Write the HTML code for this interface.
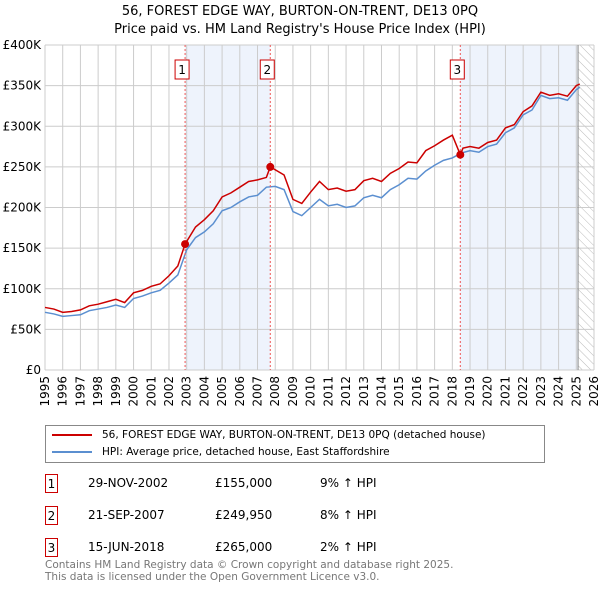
<!DOCTYPE html>
<html><head><meta charset="utf-8"><style>
body{margin:0;width:600px;height:590px;background:#fff;font-family:"DejaVu Sans","Liberation Sans",sans-serif;overflow:hidden;position:relative}
.t{position:absolute;font-size:12px;color:#000;white-space:nowrap}
.box{position:absolute;border:1.5px solid #c00;width:13px;height:19px;font-size:12px;text-align:center;line-height:19px;box-sizing:border-box}
</style></head><body>
<div class="t" style="left:0;width:600px;text-align:center;top:4px;font-size:13px">56, FOREST EDGE WAY, BURTON-ON-TRENT, DE13 0PQ</div>
<div class="t" style="left:0;width:600px;text-align:center;top:22px;font-size:13px">Price paid vs. HM Land Registry's House Price Index (HPI)</div>
<svg id="chart" width="600" height="420" style="position:absolute;left:0;top:0" font-family="DejaVu Sans, Liberation Sans, sans-serif" font-size="12"></svg>
<div style="position:absolute;left:45px;top:425px;width:500px;height:38px;border:1px solid #888;box-sizing:border-box">
<div style="position:absolute;left:6px;top:3px;font-size:10.5px;white-space:nowrap"><span style="display:inline-block;width:40px;height:2px;background:#c00;vertical-align:middle;margin-right:10px"></span>56, FOREST EDGE WAY, BURTON-ON-TRENT, DE13 0PQ (detached house)</div>
<div style="position:absolute;left:6px;top:20px;font-size:10.5px;white-space:nowrap"><span style="display:inline-block;width:40px;height:2px;background:#5b8fd0;vertical-align:middle;margin-right:10px"></span>HPI: Average price, detached house, East Staffordshire</div>
</div>
<div id="tbl"></div>
<div class="t" style="left:45px;top:559px;font-size:10.5px;color:#777">Contains HM Land Registry data © Crown copyright and database right 2025.</div>
<div class="t" style="left:45px;top:571px;font-size:10.5px;color:#777">This data is licensed under the Open Government Licence v3.0.</div>
<script>
const years=[1995,1995.5,1996,1996.5,1997,1997.5,1998,1998.5,1999,1999.5,2000,2000.5,2001,2001.5,2002,2002.5,2003,2003.5,2004,2004.5,2005,2005.5,2006,2006.5,2007,2007.5,2008,2008.5,2009,2009.5,2010,2010.5,2011,2011.5,2012,2012.5,2013,2013.5,2014,2014.5,2015,2015.5,2016,2016.5,2017,2017.5,2018,2018.5,2019,2019.5,2020,2020.5,2021,2021.5,2022,2022.5,2023,2023.5,2024,2024.5,2025,2025.2];
const hpiValues=[71,69,66,67,68,73,75,77,80,77,88,91,95,98,107,117,148,163,170,180,196,200,207,213,215,225,226,222,195,190,200,210,202,204,200,202,212,215,212,222,228,236,235,245,252,258,261,267,270,268,275,278,292,298,314,320,338,334,335,332,345,348];
const redYears=[1995,1995.5,1996,1996.5,1997,1997.5,1998,1998.5,1999,1999.5,2000,2000.5,2001,2001.5,2002,2002.5,2002.91,2003.5,2004,2004.5,2005,2005.5,2006,2006.5,2007,2007.5,2007.72,2008.5,2009,2009.5,2010,2010.5,2011,2011.5,2012,2012.5,2013,2013.5,2014,2014.5,2015,2015.5,2016,2016.5,2017,2017.5,2018,2018.45,2018.6,2019,2019.5,2020,2020.5,2021,2021.5,2022,2022.5,2023,2023.5,2024,2024.5,2025,2025.2];
const redValues=[77,75,71,72,74,79,81,84,87,83,95,98,103,106,116,128,155,176,185,196,213,218,225,232,234,237,250,240,210,205,219,232,222,224,220,222,233,236,232,242,248,256,255,270,276,283,289,265,273,275,273,280,283,298,302,318,325,342,338,340,337,350,352];
const saleYears=[2002.91,2007.72,2018.45];
const saleValues=[155,249.95,265];
const saleLabels=["1","2","3"];
const saleDates=["29-NOV-2002","21-SEP-2007","15-JUN-2018"];
const salePrices=["£155,000","£249,950","£265,000"];
const saleHpi=["9% ↑ HPI","8% ↑ HPI","2% ↑ HPI"];
const yTicks=[0,50,100,150,200,250,300,350,400];
const yTickLabels=["£0","£50K","£100K","£150K","£200K","£250K","£300K","£350K","£400K"];
const x0=45,x1=594,y0=370,y1=45;
const X=v=>x0+(v-1995)/31*(x1-x0);
const Y=v=>y0-v/400*(y0-y1);
const svg=document.getElementById('chart');const NS='http://www.w3.org/2000/svg';
function mk(t,a,p){const e=document.createElementNS(NS,t);for(const k in a)e.setAttribute(k,a[k]);(p||svg).appendChild(e);return e;}
let e;
e=mk('defs',{});e.innerHTML='<pattern id="h" width="6" height="6" patternUnits="userSpaceOnUse" patternTransform="rotate(-45)"><line x1="0" y1="0" x2="0" y2="6" stroke="#bbb" stroke-width="1"/></pattern>';
e=mk('rect',{x:X(saleYears[0]),y:y1,width:X(saleYears[1])-X(saleYears[0]),height:y0-y1,fill:'#eef3fc'});

e=mk('rect',{x:X(saleYears[2]),y:y1,width:X(2025.1)-X(saleYears[2]),height:y0-y1,fill:'#eef3fc'});

e=mk('rect',{x:X(2025.1),y:y1,width:x1-X(2025.1),height:y0-y1,fill:'url(#h)'});

for(let yr=1995;yr<=2026;yr++){
 e=mk('line',{x1:X(yr),x2:X(yr),y1:y1,y2:y0,stroke:'#ccc'});
 
 e=mk('text',{x:0,y:0,transform:`translate(${X(yr)+4},${y0+6}) rotate(-90)`,'text-anchor':'end'});e.textContent=yr;
 
}
yTicks.forEach((v,i)=>{
 e=mk('line',{x1:x0,x2:x1,y1:Y(v),y2:Y(v),stroke:'#ccc'});
 
 e=mk('text',{x:x0-4,y:Y(v)+4,'text-anchor':'end'});e.textContent=yTickLabels[i];
 
});
e=mk('line',{x1:X(2025.1),x2:X(2025.1),y1:y1,y2:y0,stroke:'#888','stroke-width':1});

e=mk('polyline',{points:years.map((y,i)=>X(y)+','+Y(hpiValues[i])).join(' '),fill:'none',stroke:'#5b8fd0','stroke-width':1.5});

e=mk('polyline',{points:redYears.map((y,i)=>X(y)+','+Y(redValues[i])).join(' '),fill:'none',stroke:'#cc0000','stroke-width':1.5});

saleYears.forEach((s,i)=>{
 e=mk('line',{x1:X(s),x2:X(s),y1:y1,y2:y0,stroke:'#e55','stroke-dasharray':'2,2'});
 
 e=mk('circle',{cx:X(s),cy:Y(saleValues[i]),r:4,fill:'#cc0000'});
 
 e=mk('rect',{x:X(s)-10,y:60,width:14,height:19,fill:'#fff',stroke:'#c00'});
 
 e=mk('text',{x:X(s)-3,y:74,'text-anchor':'middle'});e.textContent=saleLabels[i];
 
});
const tbl=document.getElementById('tbl');
saleLabels.forEach((l,i)=>{
 const top=474+i*32;
 let d=document.createElement('div');d.className='box';d.style.left='45px';d.style.top=top+'px';d.textContent=l;
 tbl.appendChild(d);
 [[88,saleDates[i]],[215,salePrices[i]],[320,saleHpi[i]]].forEach(([x,t])=>{
  d=document.createElement('div');d.className='t';d.style.left=x+'px';d.style.top=(top+2)+'px';d.textContent=t;
  tbl.appendChild(d);
 });
});
</script>
</body></html>
